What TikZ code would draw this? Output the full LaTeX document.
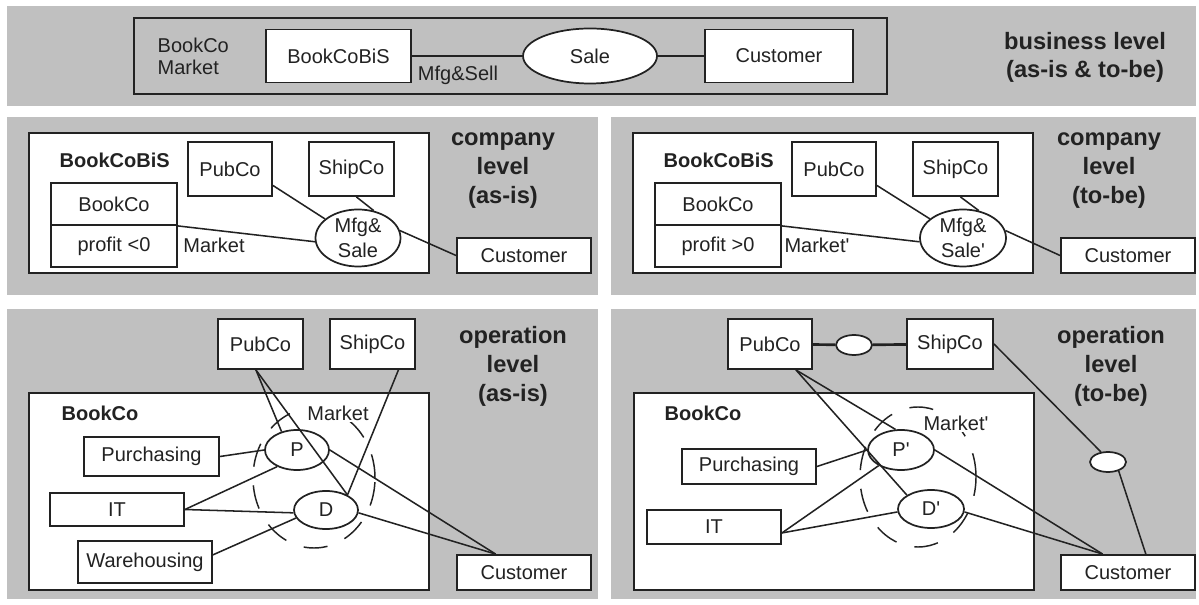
\documentclass[tikz,border=0pt]{standalone}
\usepackage{fontspec}
\setmainfont{Liberation Sans}
\usetikzlibrary{positioning,shapes.geometric}
\definecolor{panelgray}{HTML}{C0C0C0}
\definecolor{ink}{HTML}{222222}
\tikzset{sz/.style 2 args={minimum width=#1*0.75pt, minimum height=#2*0.75pt}}

\begin{document}
\begin{tikzpicture}[
        x=0.75pt, y=-0.75pt,
        font=\fontsize{15}{18.5}\selectfont,
        every node/.append style={text=ink},
        box/.style={rectangle, draw=ink, line width=1.4pt, fill=white, inner sep=0pt, align=center},
        role/.style={ellipse, draw=ink, line width=1.3pt, fill=white, inner sep=0pt, align=center},
        frame/.style={rectangle, draw=ink, line width=1.4pt, inner sep=0pt},
        panel/.style={fill=panelgray},
        mktset/.style={ellipse, draw=ink, line width=1.1pt, dash pattern=on 18pt off 14pt, inner sep=0pt},
        lbl/.style={fill=white, inner sep=1pt},
        lvl/.style={font=\bfseries\fontsize{17.75}{21.75}\selectfont, align=center},
        tag/.style={font=\bfseries\fontsize{15}{18}\selectfont, anchor=west},
        link/.style={draw=ink, line width=1.15pt},
    ]
        \fill[white] (0,0) rectangle (1199,605);
        \useasboundingbox (0,0) rectangle (1199,605);

        % business level
        \path[panel] (7,6) rectangle (1196,106);
        \node[frame, sz={753}{76}] (bizframe) at (510.5,56) {};
        \node[anchor=west, align=left, font=\fontsize{15}{16.5}\selectfont] (bizmkt) at (153,56) {BookCo\\Market};
        \node[box, sz={145}{53}] (bis) at (338.5,56) {BookCoBiS};
        \node[role, sz={134}{55}] (sale) at (590,56) {Sale};
        \node[box, sz={148}{53}] (cust) at (779,56) {Customer};
        \node (mfgsell) at (458,75) {Mfg\&Sell};
        \node[lvl, font=\bfseries\fontsize{17.75}{21}\selectfont] (bizlvl) at (1085,57) {business level\\(as-is \& to-be)};

        \draw[link] (bis) -- (sale);
        \draw[link] (sale) -- (cust);

        % company level, as-is
        \path[panel] (7,117) rectangle (598,295);
        \node[frame, fill=white, sz={400}{140}] (bisA) at (229,203) {};
        \node[tag] (bisAlbl) at (55,160) {BookCoBiS};
        \node[box, sz={84}{54}] (pubA) at (230,169) {PubCo};
        \node[box, sz={85}{54}] (shipA) at (351.5,169) {ShipCo};
        \node[box, sz={126}{42}] (bookA) at (114,204) {BookCo};
        \node[box, sz={126}{42}, below=-1.4pt of bookA] (profA) {profit <0};
        \node[role, sz={85}{57}] (mfgA) at (358,238) {Mfg\&\\Sale};
        \node (mktA) at (214,245) {Market};
        \node[box, sz={134}{35}] (custA) at (524,255.5) {Customer};
        \node[lvl] (lvlA) at (503,171) {company\\level\\(as-is)};

        \draw[link] (bookA.south east) -- (mfgA.185);
        \draw[link] (pubA.-21) -- (mfgA.150);
        \draw[link] (shipA.-80) -- (mfgA.60);
        \draw[link] (mfgA.10) -- (custA.west);

        % company level, to-be
        \path[panel] (611,117) rectangle (1196,295);
        \node[frame, fill=white, sz={400}{140}] (bisB) at (833,203) {};
        \node[tag] (bisBlbl) at (659,160) {BookCoBiS};
        \node[box, sz={84}{54}] (pubB) at (834,169) {PubCo};
        \node[box, sz={85}{54}] (shipB) at (955.5,169) {ShipCo};
        \node[box, sz={126}{42}] (bookB) at (718,204) {BookCo};
        \node[box, sz={126}{42}, below=-1.4pt of bookB] (profB) {profit >0};
        \node[role, sz={86}{57}] (mfgB) at (963,238) {Mfg\&\\Sale\textquotesingle};
        \node (mktB) at (817,245) {Market\textquotesingle};
        \node[box, sz={134}{35}] (custB) at (1128,255.5) {Customer};
        \node[lvl] (lvlB) at (1109,171) {company\\level\\(to-be)};

        \draw[link] (bookB.south east) -- (mfgB.185);
        \draw[link] (pubB.-21) -- (mfgB.150);
        \draw[link] (shipB.-80) -- (mfgB.60);
        \draw[link] (mfgB.10) -- (custB.west);

        % operation level, as-is
        \path[panel] (7,309) rectangle (598,599);
        \node[box, sz={85}{50}] (pubC) at (260.5,344) {PubCo};
        \node[box, sz={85}{50}] (shipC) at (372.5,344) {ShipCo};
        \node[frame, fill=white, sz={400}{197}] (bookC) at (229,491.5) {};
        \node[tag] (bookClbl) at (57,413) {BookCo};
        \node[mktset, sz={122}{140}] (mktsetC) at (314,478) {};
        \node[lbl] (mktC) at (338,413) {Market};
        \node[box, sz={135}{39}] (purC) at (151.5,456.5) {Purchasing};
        \node[box, sz={134}{33}] (itC) at (117,509.5) {IT};
        \node[box, sz={134}{42}] (whC) at (145,562) {Warehousing};
        \node[role, sz={64}{40}] (pC) at (297,450) {P};
        \node[role, sz={64}{38}] (dC) at (326,510) {D};
        \node[box, sz={134}{35}] (custC) at (524,572.5) {Customer};
        \node[lvl] (lvlC) at (513,366) {operation\\level\\(as-is)};

        \draw[link] (pubC.-100) -- (pC.130);
        \draw[link] (pubC.-100) -- (dC.35);
        \draw[link] (shipC.-45) -- (dC.35);
        \draw[link] (purC.east) -- (pC.west);
        \draw[link] (itC.east) -- (pC.220);
        \draw[link] (itC.east) -- (dC.185);
        \draw[link] (whC.6) -- (dC.195);
        \draw[link] (pC.east) -- (custC.147);
        \draw[link] (dC.-5) -- (custC.147);

        % operation level, to-be
        \path[panel] (611,309) rectangle (1196,599);
        \node[box, sz={84}{50}] (pubD) at (770,344) {PubCo};
        \node[role, sz={36}{20}] (pairD) at (854,345) {};
        \node[box, sz={86}{50}] (shipD) at (950,344) {ShipCo};
        \node[frame, fill=white, sz={400}{197}] (bookD) at (834,491.5) {};
        \node[tag] (bookDlbl) at (660,413) {BookCo};
        \node[mktset, sz={116}{140}] (mktsetD) at (918,477) {};
        \node[lbl] (mktD) at (956,423) {Market\textquotesingle};
        \node[box, sz={134}{35}] (purD) at (749,466.5) {Purchasing};
        \node[box, sz={134}{34}] (itD) at (714,527) {IT};
        \node[role, sz={66}{40}] (pD) at (901,450) {P\textquotesingle};
        \node[role, sz={66}{38}] (dD) at (931,509) {D\textquotesingle};
        \node[role, sz={36}{20}] (relD) at (1108,462) {};
        \node[box, sz={134}{35}] (custD) at (1128,572.5) {Customer};
        \node[lvl] (lvlD) at (1111,366) {operation\\level\\(to-be)};

        \draw[link, line width=2pt] (pubD) -- (pairD);
        \draw[link, line width=2pt] (pairD) -- (shipD);
        \draw[link] (shipD.east) -- (relD.125);
        \draw[link] (relD.-40) -- (custD.46);
        \draw[link] (pubD.-45) -- (pD.105);
        \draw[link] (pubD.-45) -- (dD.150);
        \draw[link] (purD.east) -- (pD.west);
        \draw[link] (itD.-5) -- (pD.215);
        \draw[link] (itD.-5) -- (dD.185);
        \draw[link] (pD.east) -- (custD.144);
        \draw[link] (dD.-5) -- (custD.144);
    \end{tikzpicture}
\end{document}
